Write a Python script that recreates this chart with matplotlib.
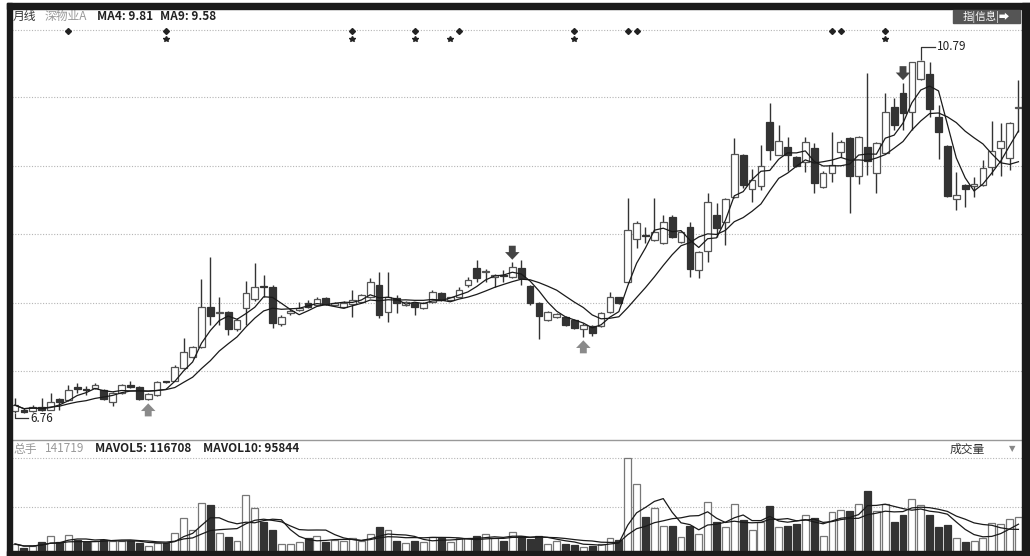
import matplotlib
matplotlib.use("Agg")
import matplotlib.pyplot as plt
from matplotlib.patches import Rectangle
import numpy as np
import pandas as pd

plt.rcParams['font.family'] = ['Noto Sans CJK SC', 'DejaVu Sans']

# monthly candles (price, yuan)
opens = [6.78, 6.80, 6.78, 6.83, 6.80, 6.92, 6.91, 7.06, 7.04, 7.05,
         7.02, 6.89, 6.99, 7.08, 7.06, 6.92, 6.97, 7.12, 7.13, 7.27,
         7.40, 7.51, 7.97, 7.90, 7.91, 7.72, 7.96, 8.06, 8.21, 8.20,
         7.78, 7.90, 7.94, 8.02, 7.99, 8.07, 7.99, 7.97, 8.01, 8.03,
         8.08, 8.22, 7.91, 8.07, 7.99, 8.02, 7.96, 8.03, 8.13, 8.05,
         8.09, 8.22, 8.42, 8.37, 8.31, 8.34, 8.31, 8.42, 8.21, 8.02,
         7.82, 7.86, 7.86, 7.82, 7.72, 7.75, 7.75, 7.91, 8.08, 8.26,
         8.75, 8.79, 8.74, 8.70, 9.00, 8.71, 8.88, 8.39, 8.61, 9.02,
         8.94, 9.23, 9.71, 9.32, 9.35, 10.08, 9.71, 9.80, 9.68, 9.63,
         9.79, 9.34, 9.50, 9.74, 9.90, 9.47, 9.80, 9.50, 9.73, 10.25,
         10.41, 10.20, 10.57, 10.63, 10.14, 9.81, 9.20, 9.36, 9.35, 9.36,
         9.57, 9.78, 9.67, 10.24]
highs = [6.93, 6.82, 6.85, 6.93, 6.99, 6.93, 7.08, 7.10, 7.07, 7.10,
         7.03, 7.00, 7.09, 7.12, 7.07, 6.99, 7.12, 7.13, 7.31, 7.62,
         7.53, 8.29, 8.54, 8.09, 7.93, 7.84, 8.27, 8.47, 8.34, 8.22,
         7.88, 7.95, 8.03, 8.05, 8.08, 8.08, 8.03, 8.04, 8.16, 8.12,
         8.30, 8.37, 8.37, 8.11, 8.04, 8.03, 8.03, 8.16, 8.14, 8.09,
         8.20, 8.31, 8.51, 8.40, 8.35, 8.39, 8.48, 8.51, 8.22, 8.03,
         7.92, 7.90, 7.87, 7.83, 7.79, 7.76, 7.91, 8.14, 8.09, 9.21,
         8.95, 8.88, 9.21, 9.02, 9.02, 8.84, 8.94, 8.61, 9.27, 9.16,
         9.22, 9.90, 9.72, 9.55, 9.82, 10.30, 10.05, 9.91, 9.69, 9.91,
         9.84, 9.52, 9.97, 9.88, 9.91, 9.92, 10.64, 9.85, 10.41, 10.36,
         10.53, 10.77, 10.79, 10.77, 10.28, 9.82, 9.51, 9.37, 9.45, 9.65,
         10.09, 10.07, 10.08, 10.56]
lows = [6.76, 6.76, 6.77, 6.78, 6.79, 6.80, 6.90, 6.99, 6.97, 7.04,
        6.91, 6.84, 6.98, 7.05, 6.91, 6.91, 6.96, 7.10, 7.12, 7.26,
        7.39, 7.50, 7.77, 7.77, 7.65, 7.70, 7.77, 8.04, 8.08, 7.73,
        7.75, 7.88, 7.93, 7.96, 7.98, 7.99, 7.98, 7.96, 7.86, 8.02,
        8.07, 7.84, 7.80, 7.90, 7.98, 7.88, 7.95, 8.02, 8.04, 8.04,
        8.08, 8.20, 8.26, 8.26, 8.20, 8.26, 8.30, 8.22, 7.99, 7.61,
        7.81, 7.85, 7.75, 7.72, 7.63, 7.64, 7.74, 7.90, 8.01, 8.25,
        8.64, 8.70, 8.72, 8.69, 8.76, 8.70, 8.31, 8.30, 8.48, 8.77,
        8.68, 9.22, 9.33, 9.17, 9.31, 9.65, 9.70, 9.52, 9.57, 9.51,
        9.27, 9.33, 9.40, 9.68, 9.04, 9.37, 9.48, 9.27, 9.72, 9.99,
        9.99, 9.99, 10.56, 10.14, 9.66, 9.23, 9.08, 9.11, 9.23, 9.35,
        9.48, 9.47, 9.53, 9.97]
closes = [6.85, 6.77, 6.83, 6.80, 6.89, 6.89, 7.02, 7.04, 7.02, 7.08,
          6.92, 6.99, 7.08, 7.06, 6.92, 6.98, 7.11, 7.11, 7.29, 7.46,
          7.51, 7.97, 7.87, 7.91, 7.72, 7.82, 8.13, 8.20, 8.20, 7.79,
          7.86, 7.92, 7.96, 7.97, 8.06, 8.00, 8.02, 8.02, 8.05, 8.11,
          8.26, 7.88, 8.08, 8.02, 8.03, 7.97, 8.02, 8.14, 8.05, 8.08,
          8.16, 8.28, 8.30, 8.38, 8.34, 8.32, 8.43, 8.30, 8.02, 7.87,
          7.91, 7.89, 7.76, 7.73, 7.77, 7.67, 7.90, 8.08, 8.02, 8.85,
          8.93, 8.78, 8.83, 8.94, 8.77, 8.83, 8.40, 8.60, 9.17, 8.87,
          9.20, 9.72, 9.36, 9.42, 9.58, 9.76, 9.87, 9.71, 9.58, 9.85,
          9.39, 9.50, 9.59, 9.85, 9.47, 9.91, 9.64, 9.84, 10.20, 10.05,
          10.19, 10.77, 10.78, 10.23, 9.97, 9.24, 9.25, 9.32, 9.37, 9.56,
          9.75, 9.86, 10.07, 10.24]
# volume (手)
volumes = [43600, 29100, 36300, 50900, 72700, 50900, 76300, 58100, 50900, 54500,
           58100, 54500, 54500, 54500, 47200, 36300, 47200, 47200, 83600, 138100,
           94500, 192600, 185300, 83600, 69000, 54500, 221700, 174400, 123600, 94500,
           43600, 43600, 50900, 65400, 72700, 50900, 58100, 54500, 65400, 54500,
           79900, 105400, 94500, 54500, 47200, 54500, 50900, 69000, 65400, 50900,
           65400, 65400, 72700, 79900, 65400, 54500, 87200, 72700, 61800, 72700,
           43600, 54500, 43600, 40000, 32700, 36300, 43600, 65400, 58100, 356100,
           261600, 141700, 174400, 109000, 109000, 69000, 109000, 79900, 196200, 123600,
           105400, 189000, 130800, 94500, 123600, 181700, 105400, 109000, 116300, 149000,
           138100, 72700, 159900, 167200, 163500, 189000, 236200, 163500, 189000, 123600,
           149000, 207100, 185300, 149000, 105400, 112700, 65400, 50900, 54500, 65400,
           119900, 116300, 134500, 141719]

# markers on the information row
info_marks = [6, 17, 38, 45, 50, 63, 69, 70, 92, 93, 98]
star_marks = [17, 38, 45, 49, 63, 98]
down_arrows = [56, 100]
up_arrows = [15, 64]
price_grid = [7.24, 8.02, 8.80, 9.58, 10.37, 11.13]
vol_grid = [178000, 356000]

W, H = 1030, 556
fig = plt.figure(figsize=(W / 100, H / 100), dpi=100)


def fx(px):
    return px / W


def fy(py):
    return 1 - py / H


x = np.arange(len(closes))
o = np.array(opens)
c = np.array(closes)
up = c >= o
xlim = (-0.34, 113.4)

ax = fig.add_axes([fx(12), fy(438), (1022 - 12) / W, (438 - 10) / H])
ax.set_xlim(*xlim)
ax.set_ylim(6.475, 11.361)
ax.axis('off')
for g in price_grid:
    ax.axhline(g, color='#b5b5b5', lw=0.8, ls=(0, (1, 1.5)), zorder=0)

ax.vlines(x, lows, highs, color='#333333', lw=1, zorder=2)
body_lo = np.minimum(o, c)
body_h = np.maximum(np.abs(c - o), 0.012)
ax.bar(x[up], body_h[up], bottom=body_lo[up], width=0.76,
       facecolor='white', edgecolor='#555555', lw=0.9, zorder=3)
ax.bar(x[~up], body_h[~up], bottom=body_lo[~up], width=0.76,
       facecolor='#333333', edgecolor='#333333', lw=0.9, zorder=3)

s = pd.Series(closes)
ax.plot(x, s.rolling(4, min_periods=1).mean(), color='#1a1a1a', lw=0.9, zorder=4)
ax.plot(x, s.rolling(9, min_periods=1).mean(), color='#1a1a1a', lw=0.9, zorder=4)

ax.plot(info_marks, [11.12] * len(info_marks), 'D', ms=3, color='#222222', zorder=5)
ax.plot(star_marks, [11.03] * len(star_marks), '*', ms=4, color='#222222', zorder=5)

arrow_style = 'simple,head_width=0.95,head_length=0.5,tail_width=0.45'
for i in down_arrows:
    ax.annotate('', xy=(i, highs[i] + 0.03), xytext=(0, 14), textcoords='offset pixels',
                arrowprops=dict(arrowstyle=arrow_style, color='#444444', lw=0,
                                shrinkA=0, shrinkB=0, mutation_scale=11))
for i in up_arrows:
    ax.annotate('', xy=(i, lows[i] - 0.04), xytext=(0, -13), textcoords='offset pixels',
                arrowprops=dict(arrowstyle=arrow_style, color='#8a8a8a', lw=0,
                                shrinkA=0, shrinkB=0, mutation_scale=11))

# high / low labels
ax.plot([102, 102, 103.6], [10.80, 10.94, 10.94], color='#333333', lw=0.9)
ax.text(103.8, 10.94, '10.79', fontsize=8.5, color='#222222', va='center')
ax.plot([0, 0, 1.5], [6.75, 6.70, 6.70], color='#333333', lw=0.9)
ax.text(1.7, 6.70, '6.76', fontsize=8.5, color='#222222', va='center')

# volume panel
vax = fig.add_axes([fx(12), 0, (1022 - 12) / W, (556 - 440) / H])
vax.set_xlim(*xlim)
vax.set_ylim(0, 421500)
vax.axis('off')
for g in vol_grid:
    vax.axhline(g, color='#b5b5b5', lw=0.8, ls=(0, (1, 1.5)), zorder=0)
v = np.array(volumes)
vax.bar(x[up], v[up], width=0.78, facecolor='white', edgecolor='#777777', lw=0.9, zorder=2)
vax.bar(x[~up], v[~up], width=0.78, facecolor='#333333', edgecolor='#333333', lw=0.9, zorder=2)
vs = pd.Series(volumes)
vax.plot(x, vs.rolling(5, min_periods=1).mean(), color='#1a1a1a', lw=0.9, zorder=3)
vax.plot(x, vs.rolling(10, min_periods=1).mean(), color='#1a1a1a', lw=0.9, zorder=3)

# frame
for (x0, y0, x1, y1) in [(7, 3, 1030, 9), (7, 3, 12, 556), (1022, 3, 1030, 556), (7, 551, 1030, 556)]:
    fig.patches.append(Rectangle((fx(x0), fy(y1)), (x1 - x0) / W, (y1 - y0) / H,
                                 transform=fig.transFigure, color='#1a1a1a', zorder=10))
fig.lines.append(plt.Line2D([fx(12), fx(1022)], [fy(439.5), fy(439.5)],
                            transform=fig.transFigure, color='#999999', lw=1))
fig.patches.append(Rectangle((fx(953), fy(23)), 67 / W, 13 / H, transform=fig.transFigure,
                             color='#555555', zorder=10))

# header texts
fig.text(fx(13), fy(16), '月线', fontsize=8.5, color='#333333', va='center')
fig.text(fx(45), fy(16), '深物业A', fontsize=8.5, color='#999999', va='center')
fig.text(fx(97), fy(16), 'MA4: 9.81', fontsize=8.5, color='#222222', va='center', weight='bold')
fig.text(fx(160), fy(16), 'MA9: 9.58', fontsize=8.5, color='#222222', va='center', weight='bold')
fig.text(fx(986), fy(16.5), '指|信息|➡', fontsize=7.5, color='white', va='center', ha='center', zorder=11)

fig.text(fx(13), fy(449), '总手', fontsize=8.5, color='#999999', va='center')
fig.text(fx(45), fy(449), '141719', fontsize=8.5, color='#999999', va='center')
fig.text(fx(95), fy(449), 'MAVOL5: 116708', fontsize=8.5, color='#222222', va='center', weight='bold')
fig.text(fx(203), fy(449), 'MAVOL10: 95844', fontsize=8.5, color='#222222', va='center', weight='bold')
fig.text(fx(950), fy(449), '成交量', fontsize=8.5, color='#333333', va='center')
fig.text(fx(1012), fy(449), '▼', fontsize=6, color='#888888', va='center', ha='center',
         family='DejaVu Sans')

fig.savefig('out.png', dpi=100, facecolor='white')
